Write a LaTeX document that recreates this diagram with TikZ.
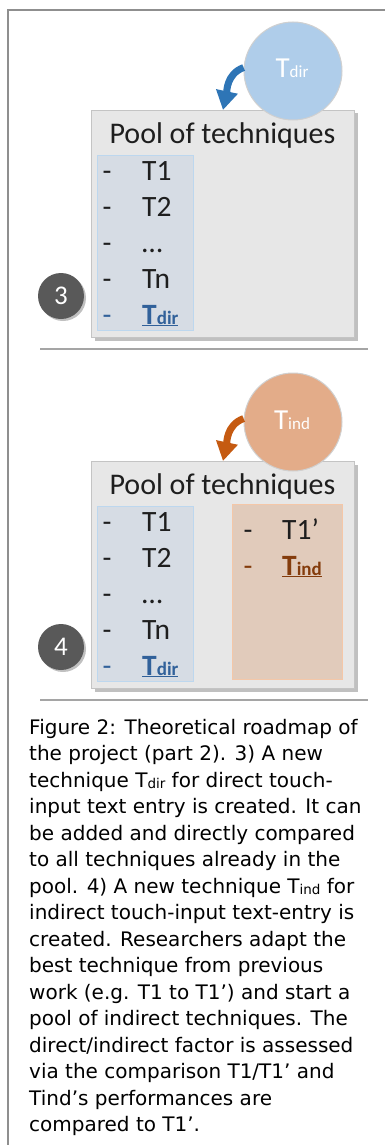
\documentclass[tikz,border=0pt]{standalone}
\usepackage{fontspec}
\setmainfont{Carlito}
\newfontfamily\capfont{DejaVu Sans}
\usetikzlibrary{shadows,arrows.meta}
\definecolor{framegray}{HTML}{8F8F8F}
\definecolor{poolfill}{HTML}{E7E7E7}
\definecolor{poolborder}{HTML}{C4C4C4}
\definecolor{dirfill}{HTML}{D6DCE4}
\definecolor{dirborder}{HTML}{BDD7EE}
\definecolor{indfill}{HTML}{E1CBBB}
\definecolor{indborder}{HTML}{F4C7A8}
\definecolor{circblue}{HTML}{AFCDEA}
\definecolor{circorange}{HTML}{E3AC89}
\definecolor{circborder}{HTML}{D0D0D0}
\definecolor{arrowblue}{HTML}{2E75B6}
\definecolor{arroworange}{HTML}{C55A11}
\definecolor{dirtext}{HTML}{31619A}
\definecolor{indtext}{HTML}{843C0C}
\definecolor{numgray}{HTML}{595959}
\definecolor{sepgray}{HTML}{A5A5A5}
\definecolor{textdark}{HTML}{1E1E1E}
\newcommand\capsub[1]{\raisebox{-1pt}{\fontsize{13.5}{13.5}\selectfont #1}}
\newcommand\boldsub[1]{{\fontsize{19}{19}\selectfont\bfseries #1}}
\tikzset{
  frameline/.style={draw=framegray, line width=1.5pt},
  poolbox/.style={draw=poolborder, fill=poolfill, line width=1pt, anchor=north west,
    minimum width=263pt, minimum height=227pt, inner sep=0pt,
    drop shadow={shadow xshift=3pt, shadow yshift=-3pt, opacity=0.35, fill=black!70}},
  pooltitle/.style={font=\fontsize{30}{30}\selectfont, text=textdark, inner sep=0pt, anchor=base},
  dirlist/.style={draw=dirborder, fill=dirfill, line width=0.8pt, anchor=north west,
    minimum width=96pt, minimum height=175pt, inner sep=0pt},
  indlist/.style={draw=indborder, fill=indfill, line width=0.8pt, anchor=north west,
    minimum width=110pt, minimum height=175pt, inner sep=0pt},
  item/.style={font=\fontsize{29.5}{29.5}\selectfont, text=textdark, anchor=base west, inner sep=0pt},
  itemdash/.style={font=\fontsize{29}{29}\selectfont, text=textdark, anchor=base, inner sep=0pt},
  techcircle/.style={circle, draw=circborder, line width=1pt, minimum size=98pt, inner sep=0pt},
  circlabel/.style={font=\fontsize{29}{29}\selectfont, text=white, anchor=base, inner sep=0pt},
  numcircle/.style={circle, fill=numgray, minimum size=46pt, inner sep=0pt, text=white,
    font=\fontsize{27}{27}\selectfont,
    drop shadow={shadow xshift=2pt, shadow yshift=-2pt, opacity=0.35, fill=black!70}},
  sepline/.style={draw=sepgray, line width=2.5pt},
  curvedarrow/.style={line width=7pt, -{Triangle[length=19pt,width=21pt]}},
  captext/.style={font=\capfont\fontsize{20}{26.5}\selectfont, text=black, anchor=base west, inner sep=0pt}
}
\begin{document}
\begin{tikzpicture}[x=1pt,y=1pt]
\useasboundingbox (0,0) rectangle (385,-1145);
\fill[white] (0,0) rectangle (385,-1145);
\draw[frameline] (8,-1145) -- (8,-10) -- (385,-10);

% ---------- section 3 ----------
\node[poolbox] (pool1) at (91,-110) {};
\node[techcircle, fill=circblue] (tdir) at (293,-71) {};
\node[circlabel] (tdirlab) at (292,-78) {T{\fontsize{17}{17}\selectfont dir}};
\draw[curvedarrow, arrowblue] (tdir.176) to[out=200,in=78] (pool1.north);
\node[pooltitle] (title1) at (222.5,-143) {Pool of techniques};
\node[dirlist] (dl1) at (97,-155) {};
\node[itemdash] (d11) at (107,-180) {-};
\node[item] (i11) at (142,-180) {T1};
\node[itemdash] (d12) at (107,-216) {-};
\node[item] (i12) at (142,-216) {T2};
\node[itemdash] (d13) at (107,-252) {-};
\node[item] (i13) at (142,-252) {…};
\node[itemdash] (d14) at (107,-288) {-};
\node[item] (i14) at (142,-288) {Tn};
\node[itemdash, text=dirtext] (d15) at (107,-324) {-};
\node[item, text=dirtext] (i15) at (142,-324) {\underline{\textbf{T}\boldsub{dir}}};
\node[numcircle] (n3) at (61,-296) {3};
\draw[sepline] (40,-349) -- (368,-349);

% ---------- section 4 ----------
\node[poolbox] (pool2) at (91,-461) {};
\node[techcircle, fill=circorange] (tind) at (293,-422) {};
\node[circlabel] (tindlab) at (292,-429) {T{\fontsize{17}{17}\selectfont ind}};
\draw[curvedarrow, arroworange] (tind.176) to[out=200,in=78] (pool2.north);
\node[pooltitle] (title2) at (222.5,-494) {Pool of techniques};
\node[dirlist] (dl2) at (97,-506) {};
\node[itemdash] (d21) at (107,-531) {-};
\node[item] (i21) at (142,-531) {T1};
\node[itemdash] (d22) at (107,-567) {-};
\node[item] (i22) at (142,-567) {T2};
\node[itemdash] (d23) at (107,-603) {-};
\node[item] (i23) at (142,-603) {…};
\node[itemdash] (d24) at (107,-639) {-};
\node[item] (i24) at (142,-639) {Tn};
\node[itemdash, text=dirtext] (d25) at (107,-675) {-};
\node[item, text=dirtext] (i25) at (142,-675) {\underline{\textbf{T}\boldsub{dir}}};
\node[indlist] (il2) at (232,-504) {};
\node[itemdash] (e21) at (248,-539) {-};
\node[item] (j21) at (282,-539) {T1’};
\node[itemdash, text=indtext] (e22) at (248,-575) {-};
\node[item, text=indtext] (j22) at (282,-575) {\underline{\textbf{T}\boldsub{ind}}};
\node[numcircle] (n4) at (61,-647) {4};
\draw[sepline] (40,-700) -- (368,-700);

% ---------- caption ----------
\foreach \t [count=\i from 0] in {
  {Figure 2: Theoretical roadmap of},
  {the project (part 2). 3) A new},
  {technique T\capsub{dir} for direct touch-},
  {input text entry is created. It can},
  {be added and directly compared},
  {to all techniques already in the},
  {pool. 4) A new technique T\capsub{ind} for},
  {indirect touch-input text-entry is},
  {created. Researchers adapt the},
  {best technique from previous},
  {work (e.g. T1 to T1’) and start a},
  {pool of indirect techniques. The},
  {direct/indirect factor is assessed},
  {via the comparison T1/T1’ and},
  {Tind’s performances are},
  {compared to T1’.}}
  \node[captext] (cap\i) at (29,-734-26.5*\i) {\t};
\end{tikzpicture}
\end{document}
